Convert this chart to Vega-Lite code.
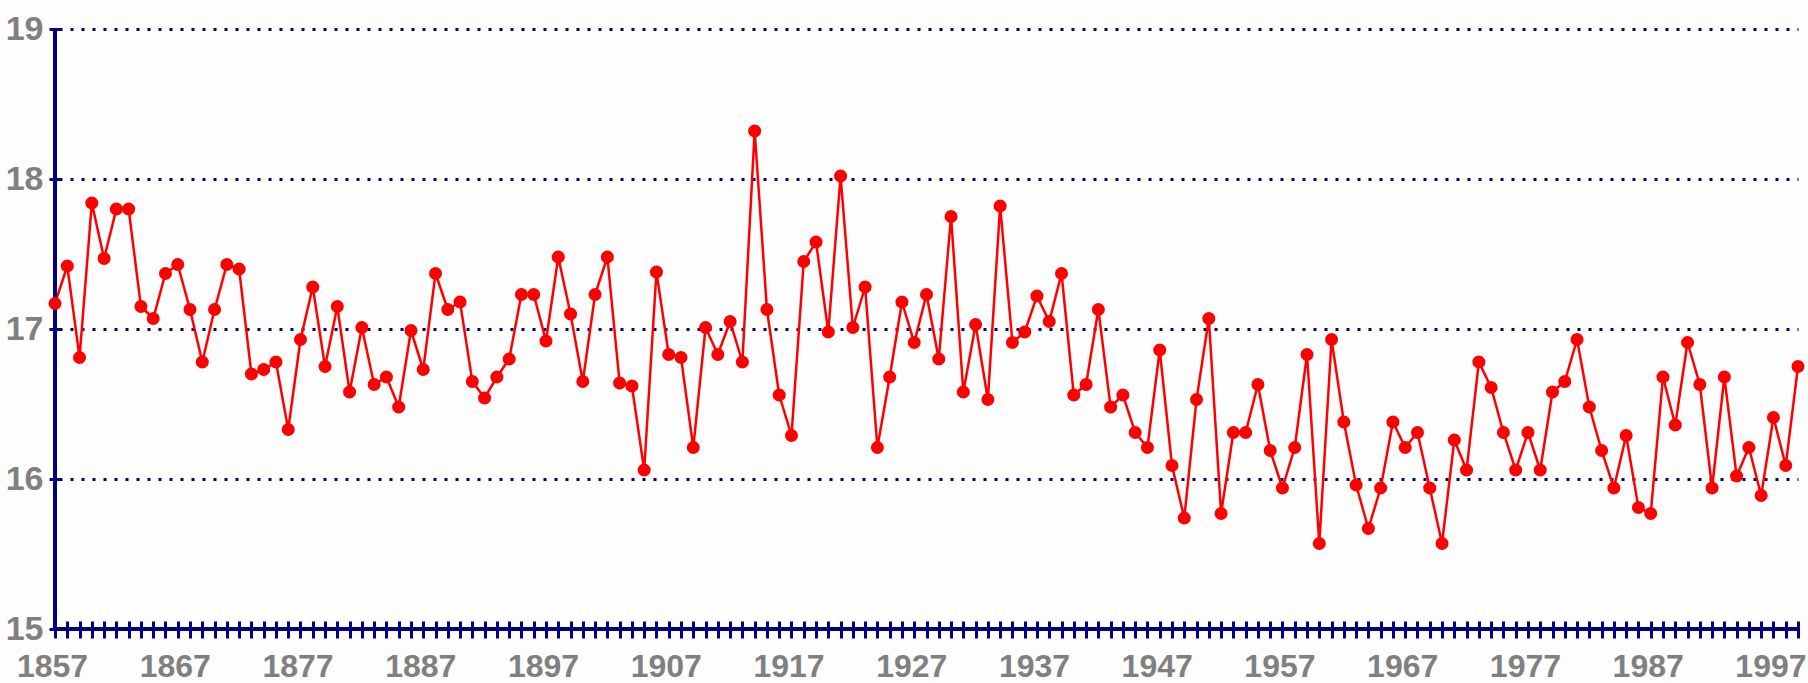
{
  "$schema": "https://vega.github.io/schema/vega-lite/v6.json",
  "width": 1743,
  "height": 600,
  "autosize": {"type": "none"},
  "padding": {"left": 55, "top": 29, "right": 10, "bottom": 54},
  "background": "#FDFDFD",
  "config": {"view": {"stroke": null}},
  "data": {"values": [
    {"year":1857,"v":17.17},{"year":1858,"v":17.42},{"year":1859,"v":16.81},{"year":1860,"v":17.84},{"year":1861,"v":17.47},
    {"year":1862,"v":17.80},{"year":1863,"v":17.80},{"year":1864,"v":17.15},{"year":1865,"v":17.07},{"year":1866,"v":17.37},
    {"year":1867,"v":17.43},{"year":1868,"v":17.13},{"year":1869,"v":16.78},{"year":1870,"v":17.13},{"year":1871,"v":17.43},
    {"year":1872,"v":17.40},{"year":1873,"v":16.70},{"year":1874,"v":16.73},{"year":1875,"v":16.78},{"year":1876,"v":16.33},
    {"year":1877,"v":16.93},{"year":1878,"v":17.28},{"year":1879,"v":16.75},{"year":1880,"v":17.15},{"year":1881,"v":16.58},
    {"year":1882,"v":17.01},{"year":1883,"v":16.63},{"year":1884,"v":16.68},{"year":1885,"v":16.48},{"year":1886,"v":16.99},
    {"year":1887,"v":16.73},{"year":1888,"v":17.37},{"year":1889,"v":17.13},{"year":1890,"v":17.18},{"year":1891,"v":16.65},
    {"year":1892,"v":16.54},{"year":1893,"v":16.68},{"year":1894,"v":16.80},{"year":1895,"v":17.23},{"year":1896,"v":17.23},
    {"year":1897,"v":16.92},{"year":1898,"v":17.48},{"year":1899,"v":17.10},{"year":1900,"v":16.65},{"year":1901,"v":17.23},
    {"year":1902,"v":17.48},{"year":1903,"v":16.64},{"year":1904,"v":16.62},{"year":1905,"v":16.06},{"year":1906,"v":17.38},
    {"year":1907,"v":16.83},{"year":1908,"v":16.81},{"year":1909,"v":16.21},{"year":1910,"v":17.01},{"year":1911,"v":16.83},
    {"year":1912,"v":17.05},{"year":1913,"v":16.78},{"year":1914,"v":18.32},{"year":1915,"v":17.13},{"year":1916,"v":16.56},
    {"year":1917,"v":16.29},{"year":1918,"v":17.45},{"year":1919,"v":17.58},{"year":1920,"v":16.98},{"year":1921,"v":18.02},
    {"year":1922,"v":17.01},{"year":1923,"v":17.28},{"year":1924,"v":16.21},{"year":1925,"v":16.68},{"year":1926,"v":17.18},
    {"year":1927,"v":16.91},{"year":1928,"v":17.23},{"year":1929,"v":16.80},{"year":1930,"v":17.75},{"year":1931,"v":16.58},
    {"year":1932,"v":17.03},{"year":1933,"v":16.53},{"year":1934,"v":17.82},{"year":1935,"v":16.91},{"year":1936,"v":16.98},
    {"year":1937,"v":17.22},{"year":1938,"v":17.05},{"year":1939,"v":17.37},{"year":1940,"v":16.56},{"year":1941,"v":16.63},
    {"year":1942,"v":17.13},{"year":1943,"v":16.48},{"year":1944,"v":16.56},{"year":1945,"v":16.31},{"year":1946,"v":16.21},
    {"year":1947,"v":16.86},{"year":1948,"v":16.09},{"year":1949,"v":15.74},{"year":1950,"v":16.53},{"year":1951,"v":17.07},
    {"year":1952,"v":15.77},{"year":1953,"v":16.31},{"year":1954,"v":16.31},{"year":1955,"v":16.63},{"year":1956,"v":16.19},
    {"year":1957,"v":15.94},{"year":1958,"v":16.21},{"year":1959,"v":16.83},{"year":1960,"v":15.57},{"year":1961,"v":16.93},
    {"year":1962,"v":16.38},{"year":1963,"v":15.96},{"year":1964,"v":15.67},{"year":1965,"v":15.94},{"year":1966,"v":16.38},
    {"year":1967,"v":16.21},{"year":1968,"v":16.31},{"year":1969,"v":15.94},{"year":1970,"v":15.57},{"year":1971,"v":16.26},
    {"year":1972,"v":16.06},{"year":1973,"v":16.78},{"year":1974,"v":16.61},{"year":1975,"v":16.31},{"year":1976,"v":16.06},
    {"year":1977,"v":16.31},{"year":1978,"v":16.06},{"year":1979,"v":16.58},{"year":1980,"v":16.65},{"year":1981,"v":16.93},
    {"year":1982,"v":16.48},{"year":1983,"v":16.19},{"year":1984,"v":15.94},{"year":1985,"v":16.29},{"year":1986,"v":15.81},
    {"year":1987,"v":15.77},{"year":1988,"v":16.68},{"year":1989,"v":16.36},{"year":1990,"v":16.91},{"year":1991,"v":16.63},
    {"year":1992,"v":15.94},{"year":1993,"v":16.68},{"year":1994,"v":16.02},{"year":1995,"v":16.21},{"year":1996,"v":15.89},
    {"year":1997,"v":16.41},{"year":1998,"v":16.09},{"year":1999,"v":16.75}
  ]},
  "layer": [
    {
      "mark": {"type": "line", "color": "#FF0000", "strokeWidth": 2.5},
      "encoding": {
        "x": {
          "field": "year", "type": "quantitative",
          "scale": {"domain": [1857, 1999], "nice": false, "zero": false},
          "axis": {
            "title": null, "domain": false, "grid": false, "offset": -8,
            "tickCount": 500,
            "values": [1857,1858,1859,1860,1861,1862,1863,1864,1865,1866,1867,1868,1869,1870,1871,1872,1873,1874,1875,1876,1877,1878,1879,1880,1881,1882,1883,1884,1885,1886,1887,1888,1889,1890,1891,1892,1893,1894,1895,1896,1897,1898,1899,1900,1901,1902,1903,1904,1905,1906,1907,1908,1909,1910,1911,1912,1913,1914,1915,1916,1917,1918,1919,1920,1921,1922,1923,1924,1925,1926,1927,1928,1929,1930,1931,1932,1933,1934,1935,1936,1937,1938,1939,1940,1941,1942,1943,1944,1945,1946,1947,1948,1949,1950,1951,1952,1953,1954,1955,1956,1957,1958,1959,1960,1961,1962,1963,1964,1965,1966,1967,1968,1969,1970,1971,1972,1973,1974,1975,1976,1977,1978,1979,1980,1981,1982,1983,1984,1985,1986,1987,1988,1989,1990,1991,1992,1993,1994,1995,1996,1997,1998,1999],
            "format": "d",
            "labelExpr": "(datum.value - 1857) % 10 === 0 ? datum.label : ''",
            "labelOverlap": false, "labelFlush": false, "labelBound": false,
            "tickSize": 17, "tickWidth": 3, "tickColor": "#000080",
            "labelPadding": 38, "labelBaseline": "alphabetic", "labelOffset": -3,
            "labelFont": "Liberation Sans", "labelFontSize": 32, "labelFontWeight": "bold", "labelColor": "#808080"
          }
        },
        "y": {
          "field": "v", "type": "quantitative",
          "scale": {"domain": [15, 19], "nice": false, "zero": false},
          "axis": {
            "title": null, "domain": false, "offset": -6,
            "values": [15, 16, 17, 18, 19], "format": "d",
            "grid": true, "gridColor": "#000080", "gridWidth": 3, "gridDash": [3, 8], "gridDashOffset": -4,
            "tickSize": 12, "tickWidth": 3, "tickColor": "#000080",
            "labelPadding": 6, "labelBaseline": "middle",
            "labelFont": "Liberation Sans", "labelFontSize": 34, "labelFontWeight": "bold", "labelColor": "#808080"
          }
        }
      }
    },
    {
      "data": {"values": [{"axisline": "x"}]},
      "mark": {"type": "rule", "color": "#000080", "strokeWidth": 4},
      "encoding": {
        "y": {"datum": 15, "type": "quantitative"}
      }
    },
    {
      "data": {"values": [{"axisline": "y"}]},
      "mark": {"type": "rule", "color": "#000080", "strokeWidth": 4},
      "encoding": {
        "x": {"datum": 1857, "type": "quantitative"}
      }
    },
    {
      "mark": {"type": "point", "shape": "circle", "filled": true, "size": 170, "color": "#FF0000", "opacity": 1},
      "encoding": {
        "x": {"field": "year", "type": "quantitative"},
        "y": {"field": "v", "type": "quantitative"}
      }
    }
  ]
}
